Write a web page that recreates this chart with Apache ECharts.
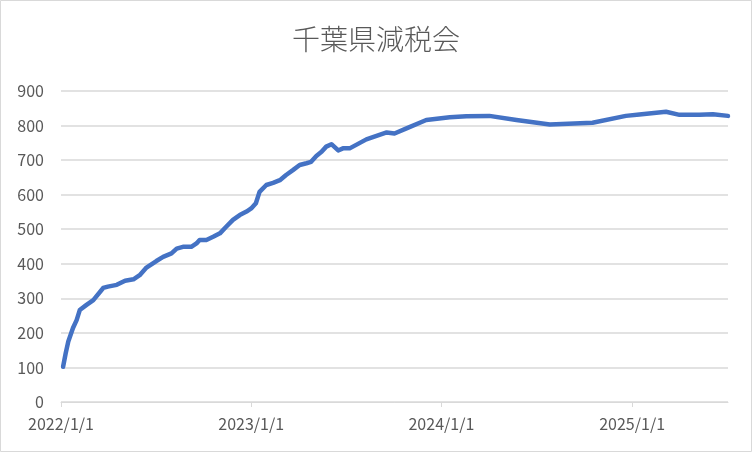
<!DOCTYPE html>
<html>
<head>
<meta charset="utf-8">
<script src="https://cdn.jsdelivr.net/npm/echarts@6/dist/echarts.min.js"></script>
<style>
html,body{margin:0;padding:0;background:#fff;}
#chart{width:752px;height:452px;}
</style>
</head>
<body>
<div id="chart"></div>
<script>
var titleText = '千葉県減税会';
var dates = [
 '2022-01-05','2022-01-10','2022-01-15','2022-01-24','2022-01-31','2022-02-06','2022-02-19','2022-03-04',
 '2022-03-23','2022-04-01','2022-04-18','2022-05-04','2022-05-20','2022-06-01','2022-06-14','2022-07-03',
 '2022-07-16','2022-08-01','2022-08-11','2022-08-23','2022-09-08','2022-09-18','2022-09-24','2022-10-07',
 '2022-10-20','2022-11-02','2022-11-14','2022-11-27','2022-12-10','2022-12-23','2023-01-01','2023-01-10',
 '2023-01-17','2023-01-30','2023-02-12','2023-02-25','2023-03-09','2023-03-22','2023-04-04','2023-04-17',
 '2023-04-26','2023-05-06','2023-05-16','2023-05-25','2023-06-04','2023-06-17','2023-06-26','2023-07-09',
 '2023-08-10','2023-09-18','2023-10-03','2023-10-26','2023-12-03','2024-01-17','2024-02-18','2024-04-02',
 '2024-05-24','2024-07-27','2024-10-17','2024-12-20','2025-01-15','2025-03-07','2025-04-02','2025-05-10',
 '2025-06-05','2025-07-04'
];
var members = [
 102,141,175,214,237,266,281,295,
 330,334,339,351,355,367,389,408,
 420,430,444,449,449,459,469,469,
 478,488,507,527,541,551,560,575,
 608,628,634,642,657,671,686,691,
 695,712,724,739,746,728,734,734,
 760,780,777,792,816,824,827,828,
 816,803,808,828,832,840,831,831,
 833,828
];
var tickDates = ['2022-01-01','2023-01-01','2024-01-01','2025-01-01'];
var tickLabels = ['2022/1/1','2023/1/1','2024/1/1','2025/1/1'];
var axisStart = '2022-01-01';
var axisEnd = '2025-07-04';

var ts = function(s){ return Date.parse(s); };
var seriesData = dates.map(function(d,i){ return [ts(d), members[i]]; });
var tickValues = tickDates.map(ts);
var labelMap = {};
tickValues.forEach(function(v,i){ labelMap[v] = tickLabels[i]; });

var chart = echarts.init(document.getElementById('chart'), null, {renderer:'canvas'});
var font = '"Noto Sans CJK JP", "Noto Sans", sans-serif';
chart.setOption({
  animation:false,
  backgroundColor:'#ffffff',
  title:{
    text:titleText, left:'center', top:20,
    textStyle:{color:'#595959', fontSize:28, fontWeight:300, fontFamily:font}
  },
  grid:{left:61, right:24, top:91, bottom:50, containLabel:false},
  xAxis:{
    type:'value', min:ts(axisStart), max:ts(axisEnd),
    axisLine:{show:true, lineStyle:{color:'#d9d9d9', width:1}},
    axisTick:{show:true, customValues:tickValues, length:5, lineStyle:{color:'#d9d9d9'}},
    axisLabel:{customValues:tickValues, color:'#595959', fontSize:16, fontFamily:font, margin:14,
      formatter:function(v){ return labelMap[v] || ''; }},
    splitLine:{show:false}
  },
  yAxis:{
    type:'value', min:0, max:900, interval:100,
    axisLine:{show:false}, axisTick:{show:false},
    axisLabel:{color:'#595959', fontSize:16, fontFamily:font, margin:17},
    splitLine:{lineStyle:{color:'#d9d9d9', width:1.5}}
  },
  graphic:[{type:'rect', shape:{x:0.5,y:0.5,width:751,height:451}, style:{fill:'none', stroke:'#d9d9d9', lineWidth:1}, silent:true}],
  series:[{
    type:'line', data:seriesData, showSymbol:false, symbol:'none',
    lineStyle:{color:'#4472C4', width:4.5, cap:'round', join:'round'},
    smooth:false
  }]
});
</script>
</body>
</html>
